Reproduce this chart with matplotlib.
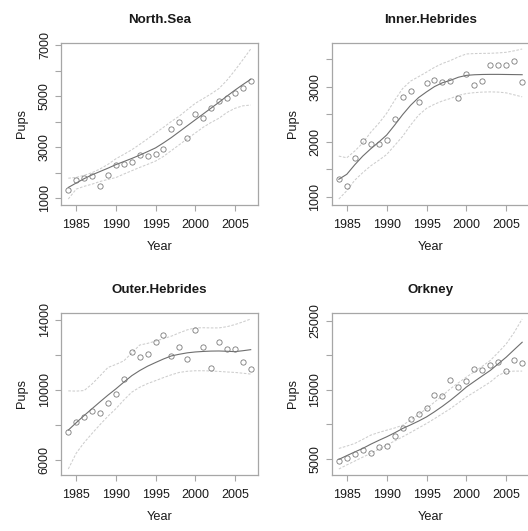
import matplotlib
matplotlib.use("Agg")
import matplotlib.pyplot as plt
from matplotlib.transforms import offset_copy

plt.rcParams['font.family'] = ['Liberation Sans', 'DejaVu Sans']

years = list(range(1984, 2008))

# ---- North.Sea ----
ns_obs = [1323, 1710, 1813, 1865, 1465, 1916, 2290, 2355, 2432, 2703, 2652, 2742,
          2935, 3697, 3981, 3374, 4303, 4135, 4522, 4806, 4923, 5129, 5335, 5580]
ns_fit = [1426, 1600, 1770, 1920, 2050, 2180, 2320, 2440, 2560, 2690, 2830, 2974,
          3170, 3380, 3610, 3840, 4071, 4300, 4530, 4760, 5000, 5232, 5450, 5658]
ns_upper = [1787, 1820, 1900, 2006, 2150, 2330, 2548, 2720, 2900, 3110, 3330, 3555,
            3780, 4010, 4220, 4470, 4716, 4900, 5090, 5297, 5620, 6006, 6420, 6845]
ns_lower = [974, 1361, 1470, 1555, 1660, 1740, 1813, 1950, 2080, 2210, 2330, 2458,
            2640, 2870, 3100, 3330, 3555, 3780, 3970, 4135, 4360, 4522, 4620, 4651]

# ---- Inner.Hebrides ----
ih_obs = [1329, 1186, 1707, 2006, 1958, 1958, 2030, 2419, 2820, 2928, 2724, 3060,
          3120, 3084, 3096, 2790, 3234, 3036, 3102, 3395, 3395, 3395, 3467, 3078]
ih_fit = [1317, 1407, 1580, 1737, 1870, 1990, 2120, 2300, 2490, 2660, 2800, 2904,
          3000, 3070, 3114, 3170, 3204, 3215, 3220, 3222, 3222, 3220, 3218, 3216]
ih_upper = [1737, 1707, 1830, 1976, 2170, 2330, 2515, 2750, 2964, 3100, 3180, 3263,
            3350, 3420, 3473, 3540, 3593, 3600, 3603, 3605, 3612, 3623, 3650, 3683]
ih_lower = [958, 1108, 1300, 1437, 1560, 1660, 1766, 1930, 2096, 2300, 2480, 2605,
            2680, 2740, 2784, 2840, 2874, 2890, 2900, 2904, 2900, 2886, 2850, 2814]

# ---- Outer.Hebrides ----
oh_obs = [7596, 8160, 8441, 8779, 8667, 9268, 9793, 10601, 12179, 11897, 12028, 12704,
          13155, 11953, 12423, 11747, 13399, 12423, 11258, 12742, 12310, 12310, 11615, 11183]
oh_fit = [7709, 8130, 8540, 8930, 9320, 9700, 10057, 10440, 10808, 11100, 11350, 11559,
          11760, 11935, 12030, 12110, 12160, 12190, 12210, 12216, 12200, 12179, 12230, 12291]
oh_upper = [9944, 9930, 9962, 10338, 10800, 11277, 11450, 11653, 12100, 12554, 12650, 12779,
            12920, 13061, 13250, 13420, 13531, 13540, 13530, 13531, 13600, 13719, 13870, 14038]
oh_lower = [5493, 6394, 7000, 7521, 8020, 8500, 8930, 9420, 9869, 10150, 10360, 10526,
            10700, 10860, 10995, 11060, 11089, 11090, 11075, 11052, 11020, 10995, 10950, 10901]

# ---- Orkney ----
ok_obs = [4663, 5144, 5721, 6298, 5865, 6683, 6875, 8269, 9471, 10769, 11491, 12356,
          14183, 14039, 16347, 15433, 16251, 17934, 17885, 18606, 19039, 17645, 19328, 18895]
ok_fit = [4904, 5450, 5980, 6490, 7100, 7650, 8173, 8750, 9375, 9900, 10450, 11058,
          11800, 12600, 13462, 14400, 15385, 16200, 17000, 17789, 18750, 19712, 20800, 21876]
ok_upper = [6490, 6830, 7212, 7800, 8414, 8800, 9135, 9450, 9856, 10600, 11400, 12260,
            13200, 14150, 15145, 16000, 16828, 17600, 18400, 19232, 20400, 21636, 23300, 25242]
ok_lower = [3510, 4100, 4663, 5230, 5769, 6380, 6971, 7570, 8173, 8800, 9450, 10096,
            10800, 11530, 12260, 13100, 13943, 14650, 15380, 16107, 17068, 17600, 17693, 17693]

panels = [
    ("North.Sea", ns_obs, ns_fit, ns_upper, ns_lower,
     [1000, 2000, 3000, 4000, 5000, 6000, 7000], [1000, 3000, 5000, 7000]),
    ("Inner.Hebrides", ih_obs, ih_fit, ih_upper, ih_lower,
     [1000, 1500, 2000, 2500, 3000, 3500], [1000, 2000, 3000]),
    ("Outer.Hebrides", oh_obs, oh_fit, oh_upper, oh_lower,
     [6000, 8000, 10000, 12000, 14000], [6000, 10000, 14000]),
    ("Orkney", ok_obs, ok_fit, ok_upper, ok_lower,
     [5000, 10000, 15000, 20000, 25000], [5000, 15000, 25000]),
]
x_ticks = [1985, 1990, 1995, 2000, 2005]

W, H = 528, 531
fig = plt.figure(figsize=(W / 100, H / 100), dpi=100)

# axes boxes in pixels: left, top, width, height
boxes = [(61, 43, 197, 162), (331.5, 43, 198, 162),
         (61, 313, 197, 162), (331.5, 313, 198, 162)]

box_col = '#a6a6a6'
txt_col = '#1a1a1a'

for (title, obs, fit, up, lo, yt, ylab), (l, t, w, h) in zip(panels, boxes):
    ax = fig.add_axes([l / W, (H - t - h) / H, w / W, h / H])
    ax.plot(years, up, color='#cdcdcd', lw=0.75, dashes=(2.5, 1.5))
    ax.plot(years, lo, color='#cdcdcd', lw=0.75, dashes=(2.5, 1.5))
    ax.plot(years, fit, color='#6e6e6e', lw=0.8)
    ax.plot(years, obs, linestyle='none', marker='o', markersize=3.8,
            markerfacecolor='none', markeredgecolor='#7a7a7a', markeredgewidth=0.6)
    ax.margins(x=0.04, y=0.04)
    ax.set_xticks(x_ticks)
    ax.set_xticklabels([str(v) for v in x_ticks])
    ax.set_yticks(yt)
    ax.set_yticklabels([str(v) if v in ylab else '' for v in yt],
                       rotation=90, va='center')
    for s in ax.spines.values():
        s.set_color(box_col)
        s.set_linewidth(0.9)
    ax.tick_params(axis='both', direction='out', length=4.3, width=0.8,
                   color=box_col, labelsize=9, labelcolor=txt_col)
    ax.tick_params(axis='x', pad=5.5)
    ax.tick_params(axis='y', pad=3)
    ax.text(0.5, 1.0, title, transform=offset_copy(ax.transAxes, fig=fig, x=0, y=16.6, units='points'),
            ha='center', va='center', fontsize=9.6, fontweight='bold', color=txt_col)
    ax.text(0.5, 0.0, 'Year', transform=offset_copy(ax.transAxes, fig=fig, x=0, y=-30.5, units='points'),
            ha='center', va='center', fontsize=9.2, color=txt_col)
    ax.text(0.0, 0.5, 'Pups', transform=offset_copy(ax.transAxes, fig=fig, x=-28, y=0, units='points'),
            ha='center', va='center', rotation=90, fontsize=9.2, color=txt_col)

fig.savefig('out.png', dpi=100, facecolor='white')
